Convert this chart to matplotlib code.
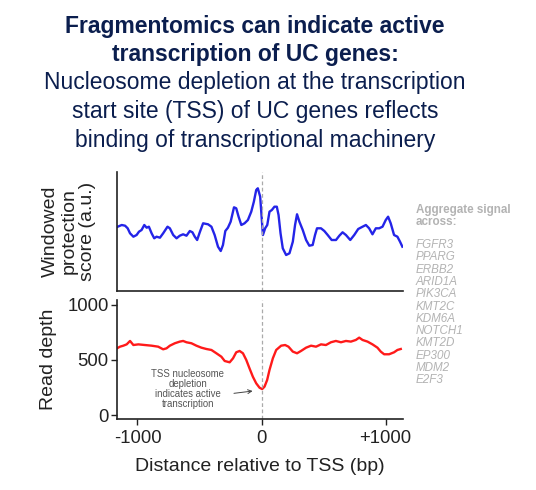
import matplotlib
matplotlib.use("Agg")
import matplotlib.pyplot as plt

plt.rcParams['font.family'] = ['Liberation Sans', 'DejaVu Sans']

# Windowed protection score (a.u.), top panel
wps_x = [-1159, -1127, -1100, -1079, -1060, -1033, -1007, -988, -967, -945, -926, -908,
         -886, -865, -846, -819, -793, -758, -739, -712, -685, -659, -632, -605, -578,
         -557, -538, -519, -498, -471, -431, -404, -378, -351, -329, -311, -292, -271,
         -249, -222, -204, -185, -163, -137, -110, -83, -62, -43, -30, -11,
         11, 29, 46, 64, 83, 104, 123, 137, 153, 171, 198, 225, 252, 270, 286, 305,
         332, 359, 385, 412, 431, 447, 479, 506, 533, 565, 600, 627, 653, 680, 715,
         747, 779, 814, 841, 867, 894, 921, 948, 975, 1001, 1020, 1041, 1068, 1095,
         1116, 1135]
wps_y = [64.3, 66.0, 65.3, 62.7, 57.7, 54.3, 56.0, 59.3, 61.0, 66.0, 63.3, 64.3,
         57.7, 52.7, 54.3, 53.3, 57.7, 64.3, 62.7, 56.0, 52.7, 55.3, 56.7, 55.3, 60.0,
         58.7, 54.3, 51.0, 58.7, 67.7, 66.7, 64.3, 56.0, 44.3, 40.0, 46.0, 60.0, 63.3,
         69.3, 83.7, 82.7, 74.3, 66.0, 67.7, 71.0, 79.3, 89.3, 101.0, 102.7, 94.3,
         56.0, 62.7, 66.0, 79.3, 81.0, 84.3, 84.3, 76.0, 57.7, 42.7, 36.0, 37.7, 49.3,
         66.0, 76.7, 69.3, 61.0, 51.0, 45.3, 46.0, 56.0, 62.7, 62.7, 60.0, 56.0, 51.0,
         51.0, 55.3, 58.7, 56.0, 51.0, 56.0, 62.0, 64.3, 66.0, 62.7, 56.7, 62.7, 62.7,
         64.3, 71.0, 74.3, 67.7, 56.0, 54.3, 49.3, 44.3]

# Read depth, bottom panel
rd_x = [-1165, -1141, -1114, -1087, -1060, -1033, -993, -940, -886, -833, -793, -766,
        -739, -699, -659, -632, -605, -565, -525, -485, -445, -404, -364, -324, -297,
        -257, -230, -204, -177, -150, -123, -97, -70, -43, -16, 5, 24, 45, 64, 91,
        118, 158, 190, 217, 252, 286, 318, 359, 399, 439, 479, 519, 559, 599, 640,
        680, 720, 760, 787, 814, 854, 894, 934, 961, 988, 1028, 1068, 1095, 1122]
rd_y = [606, 621, 630, 642, 673, 636, 642, 636, 630, 621, 597, 606,
        630, 652, 667, 673, 661, 652, 630, 612, 600, 591, 561, 530, 491,
        479, 515, 570, 582, 561, 500, 424, 348, 288, 248, 236, 258, 318, 409, 515,
        591, 630, 636, 621, 576, 561, 582, 612, 630, 621, 642, 636, 661, 673, 661,
        673, 667, 682, 703, 682, 667, 642, 612, 576, 552, 552, 570, 591, 600]

x_ticks = [-1000, 0, 1000]
x_ticklabels = ["-1000", "0", "+1000"]
y_ticks = [0, 500, 1000]
genes = ["FGFR3", "PPARG", "ERBB2", "ARID1A", "PIK3CA", "KMT2C", "KDM6A",
         "NOTCH1", "KMT2D", "EP300", "MDM2", "E2F3"]

W, H = 536, 490
fig = plt.figure(figsize=(W / 100, H / 100), dpi=100)

navy = "#0b1e4e"
fig.text(255 / W, 1 - 27 / H, "Fragmentomics can indicate active", ha="center", va="center",
         fontsize=16.5, fontweight="bold", color=navy)
fig.text(255 / W, 1 - 55 / H, "transcription of UC genes:", ha="center", va="center",
         fontsize=16.5, fontweight="bold", color=navy)
for i, line in enumerate(["Nucleosome depletion at the transcription",
                          "start site (TSS) of UC genes reflects",
                          "binding of transcriptional machinery"]):
    fig.text(255 / W, 1 - (83 + 28.5 * i) / H, line, ha="center", va="center",
             fontsize=16.5, color=navy)

xlim = (-1165, 1140)
ax1 = fig.add_axes([117 / W, 1 - 291 / H, 286 / W, 119 / H])
ax2 = fig.add_axes([117 / W, 1 - 419 / H, 286 / W, 119 / H])

ax1.plot(wps_x, wps_y, color="#2424e8", lw=1.7)
ax1.set_xlim(*xlim)
ax1.set_ylim(0, 119)
ax1.axvline(0, color="#aaaaaa", lw=0.9, ls=(0, (3, 2)))
ax1.set_xticks([])
ax1.set_yticks([])
for s in ["top", "right"]:
    ax1.spines[s].set_visible(False)
for s in ["left", "bottom"]:
    ax1.spines[s].set_linewidth(1.2)
    ax1.spines[s].set_color("#222222")
ax1.set_ylabel("Windowed\nprotection\nscore (a.u.)", fontsize=14, color="#222222",
               linespacing=1.12)
ax1.yaxis.set_label_coords(-0.073, 0.5)

ax2.plot(rd_x, rd_y, color="#ff1a1a", lw=1.7)
ax2.set_xlim(*xlim)
ax2.set_ylim(-36, 1045)
ax2.axvline(0, color="#aaaaaa", lw=0.9, ls=(0, (3, 2)))
ax2.set_xticks(x_ticks)
ax2.set_xticklabels(x_ticklabels)
ax2.set_yticks(y_ticks)
ax2.tick_params(labelsize=13.3, colors="#222222", length=4, width=1.0)
ax2.tick_params(axis="y", pad=2)
ax2.tick_params(axis="x", pad=4)
for s in ["top", "right"]:
    ax2.spines[s].set_visible(False)
for s in ["left", "bottom"]:
    ax2.spines[s].set_linewidth(1.2)
    ax2.spines[s].set_color("#222222")
ax2.set_ylabel("Read depth", fontsize=14, color="#222222")
ax2.yaxis.set_label_coords(-0.21, 0.5)
ax2.set_xlabel("Distance relative to TSS (bp)", fontsize=14, color="#222222")
ax2.xaxis.set_label_coords(0.5, -0.33)

ax2.annotate("TSS nucleosome\ndepletion\nindicates active\ntranscription",
             xy=(-72, 218), xytext=(-594, 241), ha="center", va="center",
             fontsize=6.9, color="#555555", linespacing=1.0,
             arrowprops=dict(arrowstyle="->", color="#444444", lw=0.7,
                             shrinkA=5, shrinkB=0,
                             relpos=(1.0, 0.35)))

grey = "#b3b3b3"
fig.text(416 / W, 1 - 216 / H, "Aggregate signal\nacross:", ha="left", va="center",
         fontsize=8.4, fontweight="bold", color=grey, linespacing=1.05)
for i, g in enumerate(genes):
    fig.text(416 / W, 1 - (245 + 12.3 * i) / H, g, ha="left", va="center",
             fontsize=8.4, style="italic", color=grey)

fig.savefig("out.png", dpi=100)
